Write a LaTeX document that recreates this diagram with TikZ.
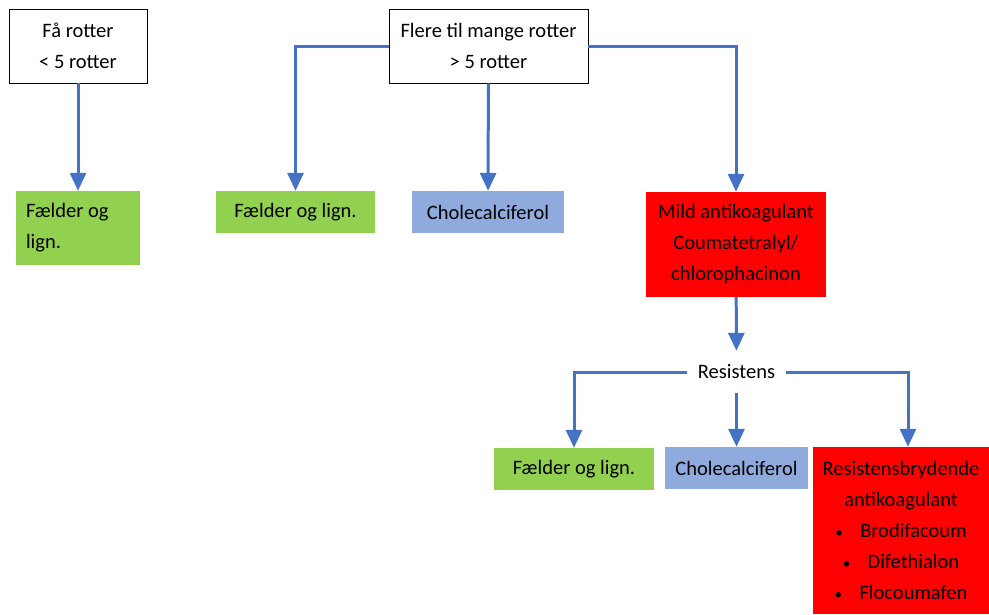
\documentclass[tikz,border=0pt]{standalone}
\usepackage{fontspec}
\setmainfont{Carlito}
\usetikzlibrary{arrows.meta}

\begin{document}
\begin{tikzpicture}[x=1pt,y=-1pt,
  every node/.style={font=\fontsize{20.5}{31}\selectfont,inner sep=0pt,align=center},
  whitebox/.style={draw=black,line width=0.8pt,fill=white},
  greenbox/.style={fill=greenColor},
  bluebox/.style={fill=blueColor},
  redbox/.style={fill=redColor},
  conn/.style={draw=arrowColor,line width=3pt,-{Triangle[width=16pt,length=18pt]}}]
\definecolor{greenColor}{RGB}{146,208,80}
\definecolor{blueColor}{RGB}{143,170,220}
\definecolor{redColor}{RGB}{255,0,0}
\definecolor{arrowColor}{RGB}{68,114,196}
\newcommand{\dotitem}{{\fontsize{15}{15}\selectfont\textbullet}\hspace{0.85em}}
\useasboundingbox (0,0) rectangle (989,614);

\node[whitebox,minimum width=138,minimum height=74] (few) at (78,46) {Få rotter\\< 5 rotter};
\node[whitebox,minimum width=199,minimum height=74] (many) at (488.5,46) {Flere til mange rotter\\> 5 rotter};

\node[greenbox,minimum width=124,minimum height=74,text width=104,align=flush left] (trapA) at (78,228) {Fælder og\\lign.};
\node[greenbox,minimum width=159,minimum height=42] (trapB) at (295.5,212) {Fælder og lign.};
\node[bluebox,minimum width=152,minimum height=42] (cholA) at (488,212) {Cholecalciferol};
\node[redbox,minimum width=180,minimum height=105] (mild) at (736,244.5) {Mild antikoagulant\\Coumatetralyl/\\chlorophacinon};

\node[minimum width=99,minimum height=42] (res) at (736.5,372) {Resistens};

\node[greenbox,minimum width=160,minimum height=42] (trapC) at (574,469) {Fælder og lign.};
\node[bluebox,minimum width=143,minimum height=42] (cholB) at (736.5,468) {Cholecalciferol};
\node[redbox,minimum width=176,minimum height=167] (strong) at (901,530.5) {Resistensbrydende\\antikoagulant\\\dotitem Brodifacoum\\\dotitem Difethialon\\\dotitem Flocoumafen};

\draw[conn] (few) -- (trapA);
\draw[conn] (many.west) -| (trapB.north);
\draw[conn] (many) -- (cholA);
\draw[conn] (many.east) -| (mild.north);
\draw[conn] (mild) -- (res);
\draw[conn] (res.west) -| (trapC.north);
\draw[conn] (res) -- (cholB);
\draw[conn] (res.east) -| ([xshift=7pt]strong.north);
\end{tikzpicture}
\end{document}
